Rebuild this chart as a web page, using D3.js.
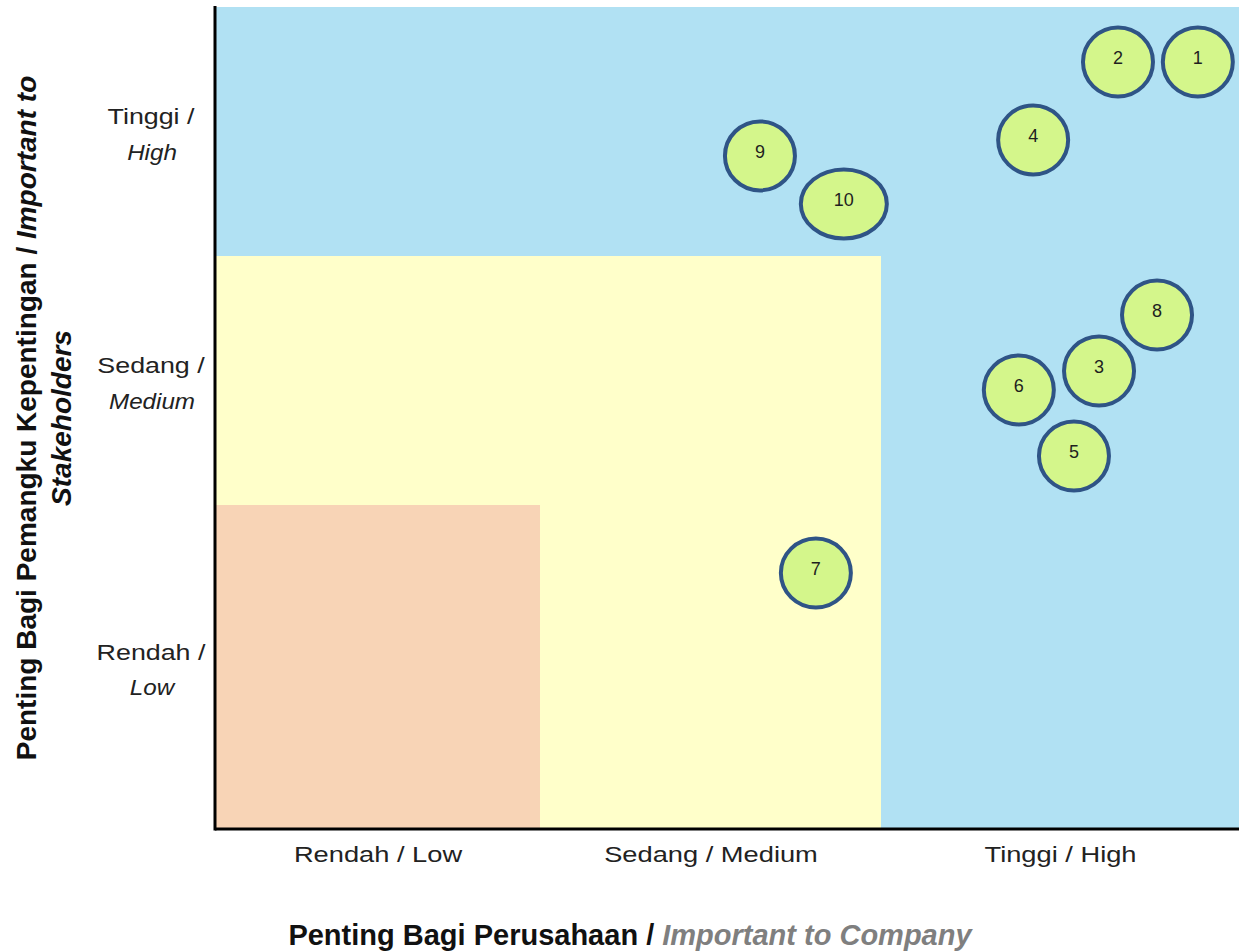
<!DOCTYPE html>
<html>
<head>
<meta charset="utf-8">
<script src="https://cdn.jsdelivr.net/npm/d3@7"></script>
<style>
  body { margin: 0; background: #fff; }
  text { font-family: "Liberation Sans", Arial, sans-serif; }
</style>
</head>
<body>
<div class="chart"></div>
<script>
// Levels on both axes
var levels = [0.5, 1.5, 2.5];
var xLevelLabels = ["Rendah / Low", "Sedang / Medium", "Tinggi / High"];
var yLevelLabels = [["Rendah /", "Low"], ["Sedang /", "Medium"], ["Tinggi /", "High"]];

// Zones (upper bound on both axes)
var zoneLimits = [3, 2, 1];
var zoneColors = ["#b1e1f3", "#ffffca", "#f8d4b6"];

// Material topics
var topicIds = ["1", "2", "3", "4", "5", "6", "7", "8", "9", "10"];
var companyScore = [2.885, 2.662, 2.609, 2.425, 2.539, 2.385, 1.809, 2.771, 1.645, 1.891];
var stakeholderScore = [2.779, 2.779, 1.538, 2.466, 1.197, 1.462, 0.790, 1.763, 2.402, 2.209];

var svgWidth = 1239;
var svgHeight = 952;

var svg = d3.select(".chart")
  .append("svg")
  .attr("width", svgWidth)
  .attr("height", svgHeight);

// scales (bands are not evenly sized in the original)
var x = d3.scaleLinear().domain([0, 1, 2, 3]).range([215, 540, 881, 1239]);
var y = d3.scaleLinear().domain([0, 1, 2, 3]).range([829, 505, 256, 7]);

var myData = topicIds.map(function(id, i) {
  return { id: id, company: companyScore[i], stakeholder: stakeholderScore[i] };
});

// background zones
svg.selectAll("rect.zone")
  .data(zoneLimits)
  .enter().append("rect")
  .attr("class", "zone")
  .attr("x", x(0))
  .attr("y", function(d) { return y(d); })
  .attr("width", function(d) { return x(d) - x(0); })
  .attr("height", function(d) { return y(0) - y(d); })
  .attr("fill", function(d, i) { return zoneColors[i]; });

// bubbles
var bubble = svg.selectAll("g.bubble")
  .data(myData)
  .enter().append("g")
  .attr("class", "bubble")
  .attr("transform", function(d) {
    return "translate(" + x(d.company) + "," + y(d.stakeholder) + ")";
  });

bubble.append("ellipse")
  .attr("rx", function(d) { return 35 + (d.id.length - 1) * 8; })
  .attr("ry", 34.5)
  .attr("fill", "#d4f68b")
  .attr("stroke", "#2f5486")
  .attr("stroke-width", 4);

bubble.append("text")
  .attr("text-anchor", "middle")
  .attr("dy", "0.1em")
  .attr("font-family", "Carlito, 'Open Sans', sans-serif")
  .attr("font-size", "18px")
  .attr("fill", "#1f1f1f")
  .text(function(d) { return d.id; });

// axes
var bottomAxis = d3.axisBottom(x).tickValues(levels).tickSize(0).tickPadding(17)
  .tickFormat(function(d, i) { return xLevelLabels[i]; });
var leftAxis = d3.axisLeft(y).tickValues(levels).tickSize(0)
  .tickFormat(function(d, i) { return ""; });

var gx = svg.append("g")
  .attr("transform", "translate(0," + y(0) + ")")
  .call(bottomAxis);
gx.select(".domain").attr("stroke", "#000").attr("stroke-width", 3).attr("d", "M" + x(0) + ",0H" + svgWidth);
gx.selectAll("text")
  .attr("font-family", "'Liberation Sans', Arial, sans-serif")
  .attr("font-size", "22px")
  .attr("transform", "scale(1.24,1)")
  .attr("fill", "#222");

var gy = svg.append("g")
  .attr("transform", "translate(" + x(0) + ",0)")
  .call(leftAxis);
gy.select(".domain").attr("stroke", "#000").attr("stroke-width", 3).attr("d", "M0," + (y(3) - 1) + "V" + (y(0) + 1.5));

// two-line level labels on the y axis
gy.selectAll(".tick").each(function(d, i) {
  var tick = d3.select(this);
  tick.select("text").remove();
  tick.append("text")
    .attr("transform", "scale(1.22,1)")
    .attr("x", -64 / 1.22)
    .attr("y", -8)
    .attr("text-anchor", "middle")
    .attr("font-size", "22px")
    .attr("fill", "#222")
    .text(yLevelLabels[i][0]);
  tick.append("text")
    .attr("transform", "scale(1.1,1)")
    .attr("x", -63 / 1.1)
    .attr("y", 28)
    .attr("text-anchor", "middle")
    .attr("font-size", "22px")
    .attr("font-style", "italic")
    .attr("fill", "#222")
    .text(yLevelLabels[i][1]);
});

// axis titles
var xTitle = svg.append("text")
  .attr("x", 630)
  .attr("y", 945)
  .attr("text-anchor", "middle")
  .attr("font-size", "29px")
  .attr("font-weight", "bold");
xTitle.append("tspan").attr("fill", "#111").text("Penting Bagi Perusahaan / ");
xTitle.append("tspan").attr("fill", "#7f7f7f").attr("font-style", "italic").text("Important to Company");

var yTitle = svg.append("text")
  .attr("transform", "translate(36,418) rotate(-90)")
  .attr("text-anchor", "middle")
  .attr("font-size", "28px")
  .attr("font-weight", "bold")
  .attr("fill", "#111");
yTitle.append("tspan").attr("x", 0).attr("y", 0).text("Penting Bagi Pemangku Kepentingan / ");
yTitle.append("tspan").attr("font-style", "italic").text("Important to");
yTitle.append("tspan").attr("x", 0).attr("y", 35).attr("font-style", "italic").text("Stakeholders");
</script>
</body>
</html>
